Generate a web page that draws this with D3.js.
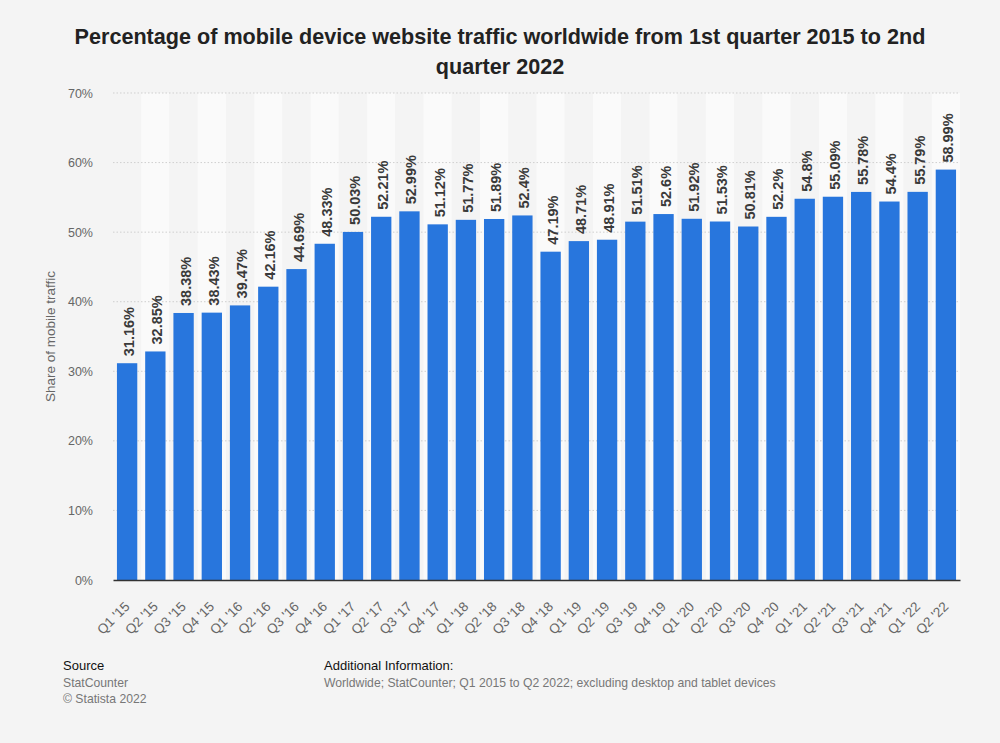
<!DOCTYPE html>
<html>
<head>
<meta charset="utf-8">
<script src="https://cdn.jsdelivr.net/npm/d3@7"></script>
<style>
  body { margin: 0; background: #f4f4f4; font-family: "Liberation Sans", Arial, sans-serif; }
</style>
</head>
<body>
<div id="chart"></div>
<script>
// chart data
const QUARTERS = ["Q1 '15", "Q2 '15", "Q3 '15", "Q4 '15", "Q1 '16", "Q2 '16", "Q3 '16", "Q4 '16",
                  "Q1 '17", "Q2 '17", "Q3 '17", "Q4 '17", "Q1 '18", "Q2 '18", "Q3 '18", "Q4 '18",
                  "Q1 '19", "Q2 '19", "Q3 '19", "Q4 '19", "Q1 '20", "Q2 '20", "Q3 '20", "Q4 '20",
                  "Q1 '21", "Q2 '21", "Q3 '21", "Q4 '21", "Q1 '22", "Q2 '22"];
const SHARES = [31.16, 32.85, 38.38, 38.43, 39.47, 42.16, 44.69, 48.33,
                50.03, 52.21, 52.99, 51.12, 51.77, 51.89, 52.4, 47.19,
                48.71, 48.91, 51.51, 52.6, 51.92, 51.53, 50.81, 52.2,
                54.8, 55.09, 55.78, 54.4, 55.79, 58.99];
const Y_TICKS = [0, 10, 20, 30, 40, 50, 60, 70];

const FRAME_WIDTH = 1000;
const FRAME_HEIGHT = 743;
const MARGINS = {left: 113, right: 40, top: 93, bottom: 163};
const VIS_WIDTH = FRAME_WIDTH - MARGINS.left - MARGINS.right;
const VIS_HEIGHT = FRAME_HEIGHT - MARGINS.top - MARGINS.bottom;
const FONT = '"Liberation Sans", Arial, sans-serif';

const data = QUARTERS.map((q, i) => ({quarter: q, share: SHARES[i]}));

const FRAME = d3.select('#chart')
  .append('svg')
    .attr('width', FRAME_WIDTH)
    .attr('height', FRAME_HEIGHT)
    .attr('font-family', FONT);

FRAME.append('rect')
  .attr('width', FRAME_WIDTH)
  .attr('height', FRAME_HEIGHT)
  .attr('fill', '#f4f4f4');

// title
FRAME.append('text')
  .attr('x', FRAME_WIDTH / 2)
  .attr('text-anchor', 'middle')
  .attr('font-size', '21.6px')
  .attr('font-weight', 'bold')
  .attr('fill', '#222')
  .selectAll('tspan')
  .data(['Percentage of mobile device website traffic worldwide from 1st quarter 2015 to 2nd', 'quarter 2022'])
  .enter().append('tspan')
    .attr('x', FRAME_WIDTH / 2)
    .attr('y', (d, i) => 44 + i * 30)
    .text((d) => d);

const xscale = d3.scaleBand()
  .domain(QUARTERS)
  .range([0, VIS_WIDTH])
  .paddingInner(0.28)
  .paddingOuter(0.14);
const yscale = d3.scaleLinear()
  .domain([0, 70])
  .range([VIS_HEIGHT, 0]);

const VIS = FRAME.append('g')
  .attr('transform', 'translate(' + MARGINS.left + ',' + MARGINS.top + ')');

// alternating column shading
const step = xscale.step();
VIS.selectAll('.band')
  .data(data)
  .enter().append('rect')
    .attr('x', (d) => xscale(d.quarter) - xscale.paddingInner() * step / 2)
    .attr('y', 0)
    .attr('width', step)
    .attr('height', VIS_HEIGHT)
    .attr('fill', (d, i) => i % 2 === 1 ? '#fafafa' : '#f4f4f4');

// grid lines
VIS.selectAll('.grid')
  .data(Y_TICKS.filter((t) => t > 0))
  .enter().append('line')
    .attr('x1', 0)
    .attr('x2', VIS_WIDTH)
    .attr('y1', (d) => yscale(d))
    .attr('y2', (d) => yscale(d))
    .attr('stroke', '#cfcfcf')
    .attr('stroke-dasharray', '1.5,2');

// y axis
const yAxis = VIS.append('g')
  .call(d3.axisLeft(yscale).tickValues(Y_TICKS).tickFormat((d) => d + '%').tickSize(0).tickPadding(20));
yAxis.select('.domain').remove();
yAxis.selectAll('text')
  .attr('font-family', FONT)
  .attr('font-size', '12.5px')
  .attr('fill', '#666');

// bars
VIS.selectAll('.bar')
  .data(data)
  .enter().append('rect')
    .attr('x', (d) => xscale(d.quarter))
    .attr('y', (d) => yscale(d.share))
    .attr('width', xscale.bandwidth())
    .attr('height', (d) => VIS_HEIGHT - yscale(d.share))
    .attr('fill', '#2876dd');

// value labels
VIS.selectAll('.label')
  .data(data)
  .enter().append('text')
    .attr('transform', (d) => 'translate(' + (xscale(d.quarter) + xscale.bandwidth() / 2 + 7) + ',' + (yscale(d.share) - 7) + ') rotate(-90)')
    .attr('font-size', '14.5px')
    .attr('font-weight', 'bold')
    .attr('fill', '#3a3a3a')
    .text((d) => d.share + '%');

// x axis
const xAxis = VIS.append('g')
  .attr('transform', 'translate(0,' + VIS_HEIGHT + ')')
  .call(d3.axisBottom(xscale).tickSize(0));
xAxis.select('.domain').attr('stroke', '#333').attr('stroke-width', 1.5);
xAxis.selectAll('text')
  .attr('font-family', FONT)
  .attr('font-size', '13.5px')
  .attr('fill', '#666')
  .attr('text-anchor', 'end')
  .attr('x', 0)
  .attr('y', 0)
  .attr('dy', '0.35em')
  .attr('transform', 'translate(0,24) rotate(-45)');

// y axis title
FRAME.append('text')
  .attr('transform', 'translate(55,' + (MARGINS.top + VIS_HEIGHT / 2) + ') rotate(-90)')
  .attr('text-anchor', 'middle')
  .attr('font-size', '13.5px')
  .attr('fill', '#666')
  .text('Share of mobile traffic');

// footer
FRAME.append('text').attr('x', 63).attr('y', 670).attr('font-size', '13px').attr('fill', '#111').text('Source');
FRAME.append('text').attr('x', 63).attr('y', 687).attr('font-size', '12.2px').attr('fill', '#777').text('StatCounter');
FRAME.append('text').attr('x', 63).attr('y', 703).attr('font-size', '12.2px').attr('fill', '#777').text('© Statista 2022');
FRAME.append('text').attr('x', 324).attr('y', 670).attr('font-size', '13px').attr('fill', '#111').text('Additional Information:');
FRAME.append('text').attr('x', 324).attr('y', 687).attr('font-size', '12.2px').attr('fill', '#777')
  .text('Worldwide; StatCounter; Q1 2015 to Q2 2022; excluding desktop and tablet devices');
</script>
</body>
</html>
